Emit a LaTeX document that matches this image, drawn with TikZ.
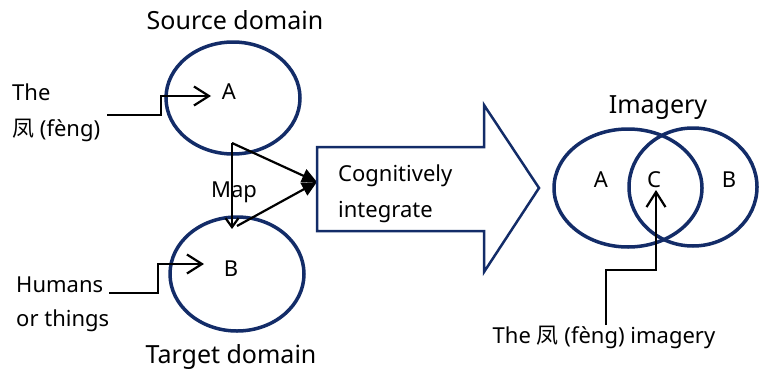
\documentclass[tikz,border=0pt]{standalone}
\usepackage{fontspec}
\setmainfont{Noto Sans}
\newfontfamily\cjk{Noto Sans CJK SC}
\usetikzlibrary{shapes.geometric,arrows.meta}
\definecolor{navy}{HTML}{132C68}

\begin{document}
\begin{tikzpicture}[x=1pt,y=-1pt,
  ring/.style={draw=navy,line width=3.5pt,ellipse,inner sep=0pt},
  lbl/.style={inner sep=0pt,font=\fontsize{22}{25}\selectfont},
  ttl/.style={inner sep=0pt,font=\fontsize{25}{28}\selectfont},
  link/.style={draw=black,line width=2.2pt,line join=miter,
    -{Straight Barb[length=15pt,width=19pt,line width=2.2pt]}},
  maplink/.style={draw=black,line width=2.2pt,
    -{Straight Barb[length=9pt,width=13pt,line width=2.2pt]}},
  feed/.style={draw=black,line width=2.2pt,
    -{Triangle[length=15pt,width=14pt]}},
  blockarrow/.style={draw=navy,line width=2.5pt,line join=miter},
]
\useasboundingbox (0,0) rectangle (759,372);

% source and target domains
\node[ring,minimum width=134pt,minimum height=112pt] (src) at (233,98) {};
\node[ring,minimum width=134pt,minimum height=114pt] (tgt) at (237,274) {};
\node[ttl,anchor=base] (srcT) at (235,29) {Source domain};
\node[ttl,anchor=base] (tgtT) at (231,363) {Target domain};
\node[lbl,anchor=base] (a1) at (229,99) {A};
\node[lbl,anchor=base] (b1) at (231,276) {B};

% inputs on the left
\node[lbl,anchor=base west] (the) at (12,100) {The};
\node[lbl,anchor=base west] (feng) at (12,136) {{\cjk 凤} (fèng)};
\node[lbl,anchor=base west] (hum) at (16,292) {Humans};
\node[lbl,anchor=base west] (orth) at (16,326) {or things};

\coordinate (theS) at (107,115);
\coordinate (theE) at (211,96);
\draw[link] (theS) -- ++(54,0) |- (theE);
\coordinate (humS) at (109,293);
\coordinate (humE) at (204,264);
\draw[link] (humS) -- ++(49,0) |- (humE);

% mapping between the domains
\node[lbl,anchor=base] (map) at (234,197) {Map};
\coordinate (apex) at (232,143);
\coordinate (mapE) at (232,229);
\coordinate (low) at (237,226);
\coordinate (boxIn) at (317,182);
\draw[maplink] (apex) -- (mapE);
\draw[feed] (apex) -- (boxIn);
\draw[feed] (low) -- (boxIn);

% block arrow
\draw[blockarrow] (317,147) -- (484,147) -- (484,105) -- (539,188)
  -- (484,272) -- (484,231) -- (317,231) -- cycle;
\node[lbl,anchor=base west] (cog) at (338,181) {Cognitively};
\node[lbl,anchor=base west] (integ) at (338,217) {integrate};

% blended imagery
\node[ring,minimum width=148pt,minimum height=118pt] (imA) at (628,188) {};
\node[ring,minimum width=128pt,minimum height=118pt] (imB) at (693,187) {};
\node[ttl,anchor=base] (imgT) at (658,113) {Imagery};
\node[lbl,anchor=base] (a2) at (601,187) {A};
\node[lbl,anchor=base] (c2) at (654,187) {C};
\node[lbl,anchor=base] (b2) at (729,187) {B};

\node[lbl,anchor=base] (cap) at (604,343) {The {\cjk 凤} (fèng) imagery};
\coordinate (capS) at (606,325);
\coordinate (capE) at (656,190);
\draw[link] (capS) -- ++(0,-55) -| (capE);
\end{tikzpicture}
\end{document}
